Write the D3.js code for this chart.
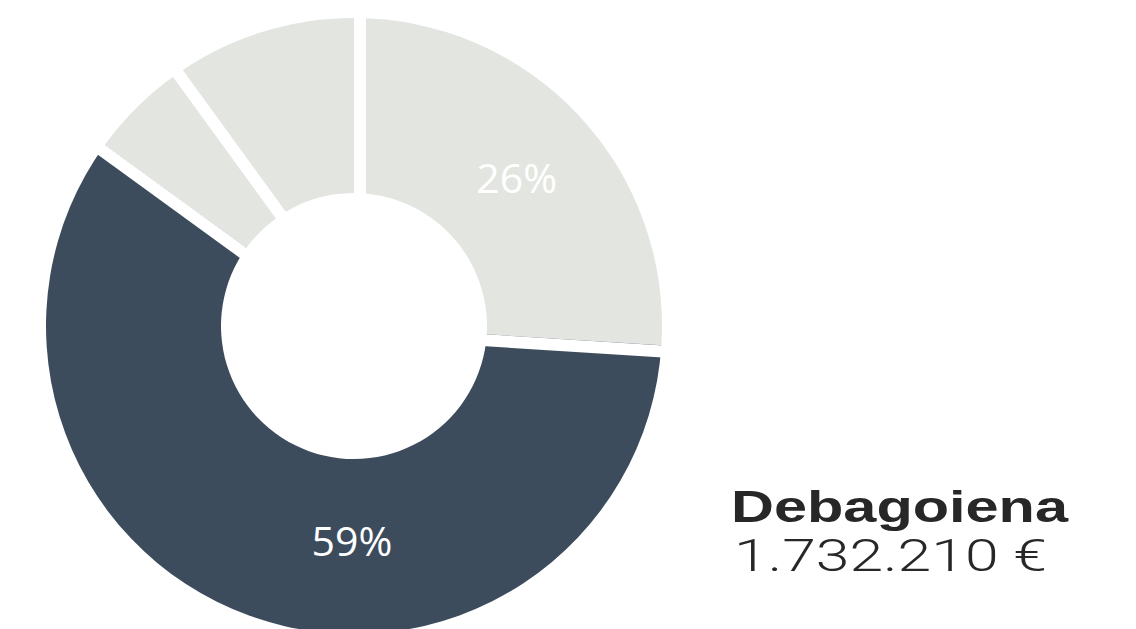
<!DOCTYPE html>
<html>
<head>
<meta charset="utf-8">
<script src="https://cdn.jsdelivr.net/npm/d3@7"></script>
<style>
  html, body { margin: 0; padding: 0; background: #fff; }
  svg { display: block; }
</style>
</head>
<body>
<svg id="chart" width="1136" height="629"></svg>
<script>
// ---- data ----
const categories = ["A", "B", "C", "D"];
const values = [26, 59, 5, 10];
const showLabel = [true, true, false, false];
const title = "Debagoiena";
const subtitle = "1.732.210 €";

// ---- layout / style ----
const W = 1136, H = 629;
const cx = 354, cy = 326, R = 308, r0 = 133;
const gapW = 12;
const colors = ["#e3e5e0", "#3c4c5d", "#e3e5e0", "#e3e5e0"];

const svg = d3.select("#chart");
const g = svg.append("g").attr("transform", `translate(${cx},${cy})`);

const pie = d3.pie().sort(null).value(d => d)(values);
const arc = d3.arc().innerRadius(r0).outerRadius(R);

g.selectAll("path.slice").data(pie).join("path")
  .attr("class", "slice")
  .attr("d", arc)
  .attr("fill", (d, i) => colors[i]);

// white gap bands at slice boundaries, cut into the larger neighbour
pie.forEach((d, i) => {
  const prev = pie[(i - 1 + pie.length) % pie.length];
  const a = d.startAngle;
  const side = d.value >= prev.value ? 1 : -1;
  const ux = Math.sin(a), uy = -Math.cos(a);
  const tx = Math.cos(a), ty = Math.sin(a);
  const off = side * gapW / 2;
  g.append("line")
    .attr("x1", tx * off)
    .attr("y1", ty * off)
    .attr("x2", tx * off + ux * (R + 10))
    .attr("y2", ty * off + uy * (R + 10))
    .attr("stroke", "#fff")
    .attr("stroke-width", gapW);
});

// percentage labels
const labelArc = d3.arc().innerRadius((R + r0) / 2).outerRadius((R + r0) / 2);
g.selectAll("text.pct").data(pie.filter((d, i) => showLabel[i])).join("text")
  .attr("class", "pct")
  .attr("transform", d => {
    let c;
    if (d.value > 50) {
      // large slice: label at the bottom of the ring
      c = labelArc.centroid({startAngle: Math.PI, endAngle: Math.PI});
      c = [c[0] - 2, c[1] - 5];
    } else {
      c = labelArc.centroid(d);
      c = [c[0] + 2, c[1] + 3];
    }
    return `translate(${c[0]},${c[1]})`;
  })
  .attr("text-anchor", "middle")
  .attr("dy", "0.36em")
  .attr("fill", "#fff")
  .style("font-family", "'Open Sans', sans-serif")
  .style("font-size", "41px")
  .text(d => Math.round(d.value) + "%");

// title block
svg.append("text")
  .attr("x", 731).attr("y", 522)
  .attr("textLength", 337)
  .attr("lengthAdjust", "spacingAndGlyphs")
  .attr("fill", "#272727")
  .style("font-family", "'Liberation Sans', Arial, sans-serif")
  .style("font-weight", "bold")
  .style("font-size", "44px")
  .text(title);

svg.append("text")
  .attr("x", 734).attr("y", 571)
  .attr("textLength", 313)
  .attr("lengthAdjust", "spacingAndGlyphs")
  .attr("fill", "#272727")
  .style("font-family", "Roboto, sans-serif")
  .style("font-weight", "300")
  .style("font-size", "45px")
  .text(subtitle);
</script>
</body>
</html>
